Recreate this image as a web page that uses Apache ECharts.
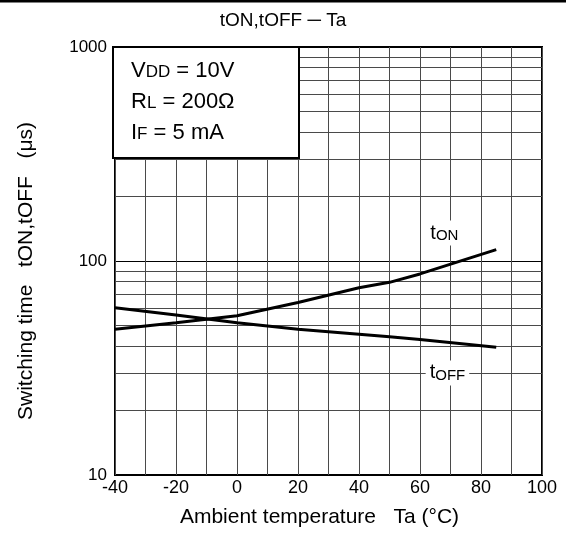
<!DOCTYPE html>
<html>
<head>
<meta charset="utf-8">
<script src="https://cdn.jsdelivr.net/npm/echarts@6/dist/echarts.min.js"></script>
<style>
  html, body { margin: 0; padding: 0; background: #fff; }
  #chart { width: 566px; height: 533px; }
</style>
</head>
<body>
<div id="chart"></div>
<script>
// ambient temperature (°C)
const temps = [-40, -20, 0, 20, 40, 50, 60, 85]
// switching times (µs)
const tOn = [48, 51.5, 55.5, 64, 75, 79.5, 87, 113]
const tOff = [60.5, 56, 51.5, 48, 45.5, 44.3, 43, 39.5]
// minor horizontal grid values of the log axis
const minorGridValues = [20, 30, 40, 50, 60, 70, 80, 90, 200, 300, 400, 500, 600, 700, 800, 900]
// where the curve names sit (Ta, value)
const onLabelAt = [68, 135]
const offLabelAt = [69, 30]

const FONT = 'Liberation Sans, Arial, sans-serif'
const GRID_COLOR = '#4a4a4a'

const chart = echarts.init(document.getElementById('chart'))

const subLabel = (sub) => ({
  show: true,
  formatter: '{t|t}{s|' + sub + '}',
  backgroundColor: '#fff',
  padding: [2, 4],
  rich: {
    t: { fontFamily: FONT, fontSize: 20, color: '#000' },
    s: { fontFamily: FONT, fontSize: 15, color: '#000', padding: [6, 0, 0, 0] },
  },
})

chart.setOption({
  animation: false,
  title: {
    text: 'tON,tOFF ─ Ta',
    left: 'center',
    top: 6,
    textStyle: { fontFamily: FONT, fontSize: 19, fontWeight: 'normal', color: '#000' },
  },
  grid: {
    left: 115,
    right: 24,
    top: 47,
    bottom: 58,
    show: true,
    borderColor: '#000',
    borderWidth: 2,
    backgroundColor: 'transparent',
  },
  xAxis: {
    type: 'value',
    min: -40,
    max: 100,
    interval: 20,
    name: 'Ambient temperature   Ta (°C)',
    nameLocation: 'middle',
    nameGap: 32,
    nameTextStyle: { fontFamily: FONT, fontSize: 21, color: '#000', padding: [0, 18, 0, 0] },
    axisLine: { show: false },
    axisTick: { show: false },
    axisLabel: { fontFamily: FONT, fontSize: 18, color: '#000', margin: 4 },
    splitLine: { show: true, lineStyle: { color: GRID_COLOR, width: 1 } },
    minorTick: { show: false, splitNumber: 2 },
    minorSplitLine: { show: true, lineStyle: { color: GRID_COLOR, width: 1 } },
  },
  yAxis: {
    type: 'log',
    logBase: 10,
    min: 10,
    max: 1000,
    name: 'Switching time   tON,tOFF   (μs)',
    nameLocation: 'middle',
    nameGap: 78,
    nameTextStyle: { fontFamily: FONT, fontSize: 21, color: '#000', padding: [0, 20, 0, 0] },
    axisLine: { show: false },
    axisTick: { show: true, inside: true, length: 10, lineStyle: { color: '#000' } },
    axisLabel: {
      fontFamily: FONT,
      fontSize: 17,
      color: '#000',
      margin: 8,
      formatter: (v) => String(Math.round(v)),
    },
    splitLine: { show: true, lineStyle: { color: '#000', width: 1 } },
  },
  graphic: [
    {
      type: 'line',
      shape: { x1: 0, y1: 1, x2: 566, y2: 1 },
      style: { stroke: '#000', lineWidth: 3 },
    },
    {
      type: 'rect',
      z: 100,
      zlevel: 1,
      shape: { x: 113, y: 47, width: 186, height: 111 },
      style: { fill: '#fff', stroke: '#000', lineWidth: 2 },
    },
    {
      type: 'text',
      z: 101,
      zlevel: 1,
      x: 131,
      y: 55,
      style: {
        text: '{n|V}{s|DD}{n| = 10V}\n{n|R}{s|L}{n| = 200Ω}\n{n|I}{s|F}{n| = 5 mA}',
        rich: {
          n: { fontFamily: FONT, fontSize: 22, color: '#000', lineHeight: 31 },
          s: { fontFamily: FONT, fontSize: 17, color: '#000', lineHeight: 31, padding: [4, 0, 0, 0] },
        },
      },
    },
  ],
  series: [
    {
      name: 'grid',
      type: 'line',
      data: [],
      silent: true,
      z: 1,
      markLine: {
        silent: true,
        symbol: 'none',
        label: { show: false },
        lineStyle: { color: GRID_COLOR, width: 1, type: 'solid' },
        data: minorGridValues.map((v) => ({ yAxis: v })),
      },
    },
    {
      name: 'tON',
      type: 'line',
      data: temps.map((t, i) => [t, tOn[i]]),
      symbol: 'none',
      z: 5,
      lineStyle: { color: '#000', width: 3 },
      markPoint: {
        symbol: 'rect',
        symbolSize: 0,
        label: subLabel('ON'),
        data: [{ coord: onLabelAt }],
      },
    },
    {
      name: 'tOFF',
      type: 'line',
      data: temps.map((t, i) => [t, tOff[i]]),
      symbol: 'none',
      z: 5,
      lineStyle: { color: '#000', width: 3 },
      markPoint: {
        symbol: 'rect',
        symbolSize: 0,
        label: subLabel('OFF'),
        data: [{ coord: offLabelAt }],
      },
    },
  ],
})
</script>
</body>
</html>
